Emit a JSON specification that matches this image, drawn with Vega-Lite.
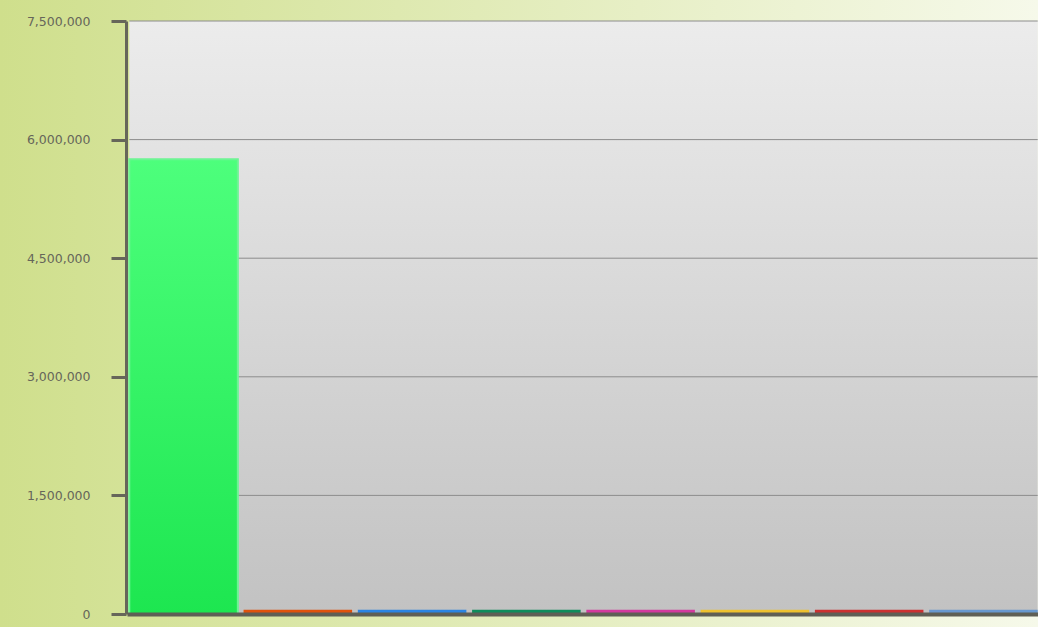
{
  "$schema": "https://vega.github.io/schema/vega-lite/v6.json",
  "width": 1038,
  "height": 627,
  "autosize": {"type": "none"},
  "padding": 0,
  "background": "#e3ecbf",
  "config": {
    "view": {
      "fill": {"gradient": "linear", "x1": 0, "y1": 0, "x2": 1, "y2": 0, "stops": [{"offset": 0, "color": "#cfdf8c"}, {"offset": 1, "color": "#f6f9ea"}]},
      "stroke": null
    }
  },
  "datasets": {
    "bars": [
      {"name": "A", "value": 5750000},
      {"name": "B", "value": 55000},
      {"name": "C", "value": 55000},
      {"name": "D", "value": 55000},
      {"name": "E", "value": 55000},
      {"name": "F", "value": 55000},
      {"name": "G", "value": 55000},
      {"name": "H", "value": 55000}
    ],
    "grid": [
      {"level": 1500000},
      {"level": 3000000},
      {"level": 4500000},
      {"level": 6000000},
      {"level": 7500000}
    ],
    "plot": [
      {"top": 7500000, "bottom": 0}
    ]
  },
  "data": {"name": "bars"},
  "layer": [
    {
      "data": {"name": "plot"},
      "mark": {
        "type": "rect",
        "fill": {"gradient": "linear", "x1": 0, "y1": 0, "x2": 0, "y2": 1, "stops": [{"offset": 0, "color": "#ececec"}, {"offset": 1, "color": "#c2c2c2"}]}
      },
      "encoding": {
        "x": {"datum": "A", "type": "nominal", "bandPosition": 0},
        "x2": {"datum": "H", "bandPosition": 1},
        "y": {"field": "top", "type": "quantitative"},
        "y2": {"field": "bottom"}
      }
    },
    {
      "data": {"name": "grid"},
      "mark": {"type": "rule", "color": "#8c8c8c", "strokeWidth": 1},
      "encoding": {
        "x": {"datum": "A", "type": "nominal", "bandPosition": 0},
        "x2": {"datum": "H", "bandPosition": 1},
        "y": {"field": "level", "type": "quantitative"}
      }
    },
    {
      "transform": [{"filter": "datum.name !== 'A'"}],
      "mark": {"type": "bar"},
      "encoding": {
        "x": {"field": "name", "type": "nominal"},
        "y": {"field": "value", "type": "quantitative"},
        "color": {
          "field": "name",
          "type": "nominal",
          "legend": null,
          "scale": {"domain": ["B", "C", "D", "E", "F", "G", "H"], "range": ["#e0520c", "#2b84e3", "#0f8c5c", "#d3399e", "#eec12f", "#cc3131", "#6898cf"]}
        }
      }
    },
    {
      "transform": [{"filter": "datum.name === 'A'"}],
      "mark": {
        "type": "bar",
        "fill": {"gradient": "linear", "x1": 0, "y1": 0, "x2": 0, "y2": 1, "stops": [{"offset": 0, "color": "#4dff7c"}, {"offset": 1, "color": "#1de650"}]},
        "stroke": "#6cf593",
        "strokeWidth": 2
      },
      "encoding": {
        "x": {"field": "name", "type": "nominal"},
        "y": {"field": "value", "type": "quantitative"}
      }
    }
  ],
  "resolve": {"scale": {"x": "shared", "y": "shared"}},
  "encoding": {
    "x": {
      "type": "nominal",
      "scale": {"domain": ["A", "B", "C", "D", "E", "F", "G", "H"], "range": [127, 1040], "paddingInner": 0.05, "paddingOuter": 0.02},
      "axis": {"labels": false, "ticks": false, "title": null, "domainColor": "#5f5f55", "domainWidth": 4, "grid": false, "offset": -13}
    },
    "y": {
      "type": "quantitative",
      "scale": {"domain": [0, 7500000], "nice": false, "range": [614, 21]},
      "axis": {
        "values": [0, 1500000, 3000000, 4500000, 6000000, 7500000],
        "format": ",.0f",
        "title": null,
        "grid": false,
        "offset": -126,
        "domainColor": "#66665a",
        "domainWidth": 3,
        "tickColor": "#66665a",
        "tickWidth": 3,
        "tickSize": 15,
        "labelPadding": 21,
        "labelFont": "DejaVu Sans",
        "labelFontSize": 12.5,
        "labelColor": "#66665a"
      }
    }
  }
}
